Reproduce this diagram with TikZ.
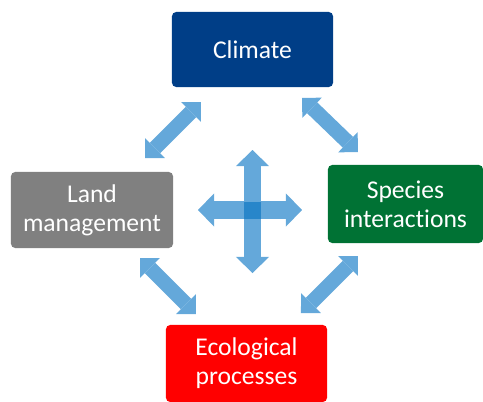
\documentclass[tikz,border=0pt]{standalone}
\usepackage{fontspec}
\setmainfont{Carlito}[Ligatures=NoCommon]
\usepackage{xcolor}
\usetikzlibrary{arrows.meta,positioning,calc}

\definecolor{climblue}{RGB}{0,62,135}
\definecolor{landgray}{RGB}{128,128,128}
\definecolor{specgreen}{RGB}{0,114,52}
\definecolor{ecored}{RGB}{255,0,0}
\definecolor{linkblue}{RGB}{100,168,218}
\definecolor{hubblue}{RGB}{40,134,202}

\tikzset{
  box/.style={rounded corners=3pt, text=white, align=center, inner sep=0pt,
    font=\fontsize{18.2}{20.6}\selectfont},
  link/.style={linkblue, line width=0.37cm,
    {Triangle[width=0.7cm,length=0.35cm,line width=0pt]}-{Triangle[width=0.7cm,length=0.35cm,line width=0pt]}},
  crossarm/.style={linkblue, line width=0.425cm,
    {Triangle[width=0.825cm,length=0.4cm,line width=0pt]}-{Triangle[width=0.825cm,length=0.4cm,line width=0pt]}}
}

\begin{document}
\begin{tikzpicture}[x=0.025cm,y=-0.025cm]
  \clip (0,0) rectangle (483,402);

  % the four factors
  \node[box, fill=climblue, minimum width=4.025cm, minimum height=1.875cm] (climate) at (252.5,49.5) {Climate};
  \node[box, fill=landgray, minimum width=4.05cm, minimum height=1.9cm] (land) at (92,210) {Land\\management};
  \node[box, fill=specgreen, minimum width=3.875cm, minimum height=1.95cm] (species) at (405.5,204) {Species\\interactions};
  \node[box, fill=ecored, minimum width=4.025cm, minimum height=1.925cm] (eco) at (246.5,363.5) {Ecological\\processes};

  % arrow ends between the boxes
  \coordinate (lc1) at (145,158); \coordinate (lc2) at (201,102);
  \coordinate (cs1) at (302,98);  \coordinate (cs2) at (358,152);
  \coordinate (le1) at (140,258); \coordinate (le2) at (196,314);
  \coordinate (se1) at (358,256); \coordinate (se2) at (301,313);

  \foreach \a/\b in {lc1/lc2,cs1/cs2,le1/le2,se1/se2}
    \draw[link] (\a) -- (\b);

  % central cross
  \coordinate (hub) at (252.5,210);
  \coordinate (hubN) at (252.5,150); \coordinate (hubS) at (252.5,273);
  \coordinate (hubW) at (198,210);   \coordinate (hubE) at (302,210);
  \draw[crossarm] (hubW) -- (hubE);
  \draw[crossarm] (hubN) -- (hubS);
  \fill[hubblue] ($(hub)+(-8.5,-8.5)$) rectangle ($(hub)+(8.5,8.5)$);
\end{tikzpicture}
\end{document}
